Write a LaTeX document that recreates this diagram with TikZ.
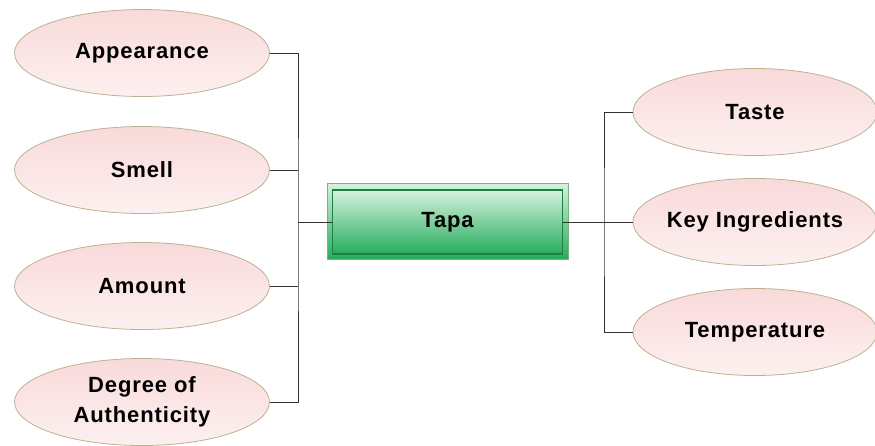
\documentclass[tikz,border=0pt]{standalone}
\usepackage{fontspec}
\setmainfont{Liberation Sans}
\usetikzlibrary{shapes.geometric}
\definecolor{petal}{RGB}{249,218,218}
\definecolor{petallight}{RGB}{253,240,240}
\definecolor{petalline}{RGB}{188,178,145}
\definecolor{leafdark}{RGB}{28,128,62}
\definecolor{leaftop}{RGB}{214,242,222}
\definecolor{leafbot}{RGB}{38,172,92}
\definecolor{leafframe}{RGB}{120,180,130}
\newcommand{\labelfont}{\fontsize{22}{30}\selectfont\bfseries\addfontfeatures{LetterSpace=4}}
\begin{document}
\begin{tikzpicture}[x=1pt,y=-1pt,
  aspect/.style={ellipse,draw=petalline,line width=0.8pt,top color=petal,bottom color=petallight,
    minimum width=255pt,minimum height=87pt,inner sep=0pt,align=center,
    font=\labelfont},
  dish/.style={rectangle,draw=leafdark,line width=1.6pt,top color=leaftop,bottom color=leafbot,
    minimum width=230pt,minimum height=64pt,inner sep=0pt,
    font=\labelfont},
  link/.style={draw=black!80,line width=0.9pt}]%
\useasboundingbox (0,0) rectangle (875,445);%
% outer frame of the centre box
\shade[top color=leaftop,bottom color=leafbot,draw=leafframe,line width=0.8pt] (327,183) rectangle (568,259);%
\node [dish] (tapa) at (447.5,222) {Tapa};%
% left side
\node [aspect] (appear) at (142,53) {Appearance};%
\node [aspect] (smell) at (142,170) {Smell};%
\node [aspect] (amount) at (142,286) {Amount};%
\node [aspect] (degree) at (142,402) {Degree of\\Authenticity};%
% right side
\node [aspect,minimum width=244pt] (taste) at (755,112) {Taste};%
\node [aspect,minimum width=244pt,inner xsep=-8pt] (ingred) at (755,222) {Key Ingredients};%
\node [aspect,minimum width=244pt] (temper) at (755,332) {Temperature};%
\coordinate (lbus) at (298,222);%
\coordinate (rbus) at (604,222);%
\draw [link] (appear.east) -| (lbus) |- (degree.east);%
\draw [link] (smell.east) -- (smell.east -| lbus);%
\draw [link] (amount.east) -- (amount.east -| lbus);%
\draw [link] (lbus) -- (tapa.west);%
\draw [link] (taste.west) -| (rbus) |- (temper.west);%
\draw [link] (tapa.east) -- (ingred.west);%
\end{tikzpicture}
\end{document}
